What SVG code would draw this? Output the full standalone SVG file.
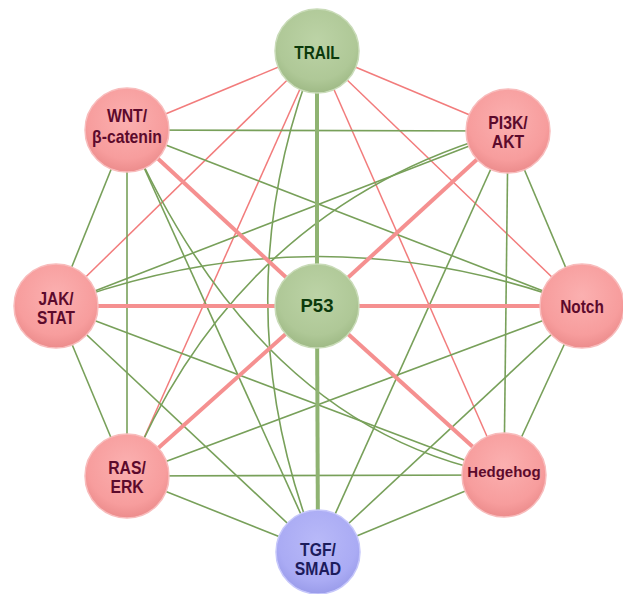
<svg xmlns="http://www.w3.org/2000/svg" width="623" height="594" viewBox="0 0 623 594">
<defs>
<radialGradient id="gr" cx="50%" cy="38%" r="62%">
<stop offset="0" stop-color="#fbb0b0"/><stop offset="0.75" stop-color="#f79d9d"/><stop offset="1" stop-color="#ec8c8c"/>
</radialGradient>
<radialGradient id="gg" cx="50%" cy="38%" r="62%">
<stop offset="0" stop-color="#bcd3a6"/><stop offset="0.75" stop-color="#afc897"/><stop offset="1" stop-color="#9fba86"/>
</radialGradient>
<radialGradient id="gb" cx="50%" cy="38%" r="62%">
<stop offset="0" stop-color="#b8b9f8"/><stop offset="0.75" stop-color="#aaabf4"/><stop offset="1" stop-color="#9a9cea"/>
</radialGradient>
</defs>
<style>
.g{stroke:#78a05a;stroke-width:1.6;fill:none}
.r{stroke:#f27c7c;stroke-width:1.5;fill:none}
.R{stroke:#f59090;stroke-width:4}
.G{stroke:#8fb372;stroke-width:4}
.nr{fill:url(#gr);stroke:#f8bcbc;stroke-width:1.5}
.ng{fill:url(#gg);stroke:#c9dbb8;stroke-width:1.5}
.nb{fill:url(#gb);stroke:#c6c7fb;stroke-width:1.5}
text{font-family:"Liberation Sans",Arial,sans-serif;font-weight:bold;text-anchor:middle;font-size:17.5px}
.tr{fill:#5c0a2c}
.tg{fill:#0c3a0c}
.tb{fill:#1c1c5c}
</style>
<g id="connectors">
<line class="r" x1="317" y1="51" x2="127" y2="130"/>
<line class="r" x1="317" y1="51" x2="508" y2="131"/>
<line class="r" x1="317" y1="51" x2="56" y2="306"/>
<line class="r" x1="317" y1="51" x2="582" y2="306"/>
<line class="r" x1="317" y1="51" x2="127" y2="476"/>
<line class="r" x1="317" y1="51" x2="504" y2="475"/>
<line class="g" x1="127" y1="130" x2="508" y2="131"/>
<line class="g" x1="127" y1="130" x2="56" y2="306"/>
<line class="g" x1="127" y1="130" x2="582" y2="306"/>
<line class="g" x1="127" y1="130" x2="127" y2="476"/>
<line class="g" x1="127" y1="130" x2="318" y2="552"/>
<line class="g" x1="508" y1="131" x2="56" y2="306"/>
<line class="g" x1="508" y1="131" x2="582" y2="306"/>
<line class="g" x1="508" y1="131" x2="504" y2="475"/>
<line class="g" x1="508" y1="131" x2="318" y2="552"/>
<line class="g" x1="56" y1="306" x2="127" y2="476"/>
<line class="g" x1="56" y1="306" x2="504" y2="475"/>
<line class="g" x1="56" y1="306" x2="318" y2="552"/>
<line class="g" x1="582" y1="306" x2="127" y2="476"/>
<line class="g" x1="582" y1="306" x2="504" y2="475"/>
<line class="g" x1="582" y1="306" x2="318" y2="552"/>
<line class="g" x1="127" y1="476" x2="504" y2="475"/>
<line class="g" x1="127" y1="476" x2="318" y2="552"/>
<line class="g" x1="504" y1="475" x2="318" y2="552"/>
<path class="g" d="M317,51 Q218,300 318,552"/>
<path class="g" d="M56,306 Q318,207 582,306"/>
<path class="g" d="M127,130 Q260,430 504,475"/>
<path class="g" d="M508,131 Q240,205 127,476"/>
<line class="R" x1="317" y1="306" x2="127" y2="130"/>
<line class="R" x1="317" y1="306" x2="508" y2="131"/>
<line class="R" x1="317" y1="306" x2="56" y2="306"/>
<line class="R" x1="317" y1="306" x2="582" y2="306"/>
<line class="R" x1="317" y1="306" x2="127" y2="476"/>
<line class="R" x1="317" y1="306" x2="504" y2="475"/>
<line class="G" x1="317" y1="51" x2="317" y2="306"/>
<line class="G" x1="317" y1="306" x2="318" y2="552"/>
</g>
<g id="TRAIL"><circle class="ng" cx="317" cy="51" r="42"/><text class="tg" transform="translate(317,59) scale(0.88,1)">TRAIL</text></g>
<g id="WNT"><circle class="nr" cx="127" cy="130" r="42"/><text class="tr" transform="translate(127,0) scale(0.9,1)"><tspan x="0" y="122">WNT/</tspan><tspan x="0" y="143">β-catenin</tspan></text></g>
<g id="PI3K"><circle class="nr" cx="508" cy="131" r="42"/><text class="tr" transform="translate(508,0) scale(0.9,1)"><tspan x="0" y="129">PI3K/</tspan><tspan x="0" y="148">AKT</tspan></text></g>
<g id="JAK"><circle class="nr" cx="56" cy="306" r="42"/><text class="tr" transform="translate(56,0) scale(0.88,1)"><tspan x="0" y="305">JAK/</tspan><tspan x="0" y="324">STAT</tspan></text></g>
<g id="Notch"><circle class="nr" cx="582" cy="306" r="42"/><text class="tr" transform="translate(582,313) scale(0.88,1)">Notch</text></g>
<g id="P53"><circle class="ng" cx="317" cy="306" r="42"/><text class="tg" style="font-size:18.5px" x="317" y="312">P53</text></g>
<g id="RAS"><circle class="nr" cx="127" cy="476" r="42"/><text class="tr" transform="translate(127,0) scale(0.9,1)"><tspan x="0" y="474">RAS/</tspan><tspan x="0" y="493">ERK</tspan></text></g>
<g id="Hedgehog"><circle class="nr" cx="504" cy="475" r="42"/><text class="tr" style="font-size:15px" x="504" y="477">Hedgehog</text></g>
<g id="TGF"><circle class="nb" cx="318" cy="552" r="42"/><text class="tb" transform="translate(318,0) scale(0.9,1)"><tspan x="0" y="556">TGF/</tspan><tspan x="0" y="575">SMAD</tspan></text></g>
</svg>
